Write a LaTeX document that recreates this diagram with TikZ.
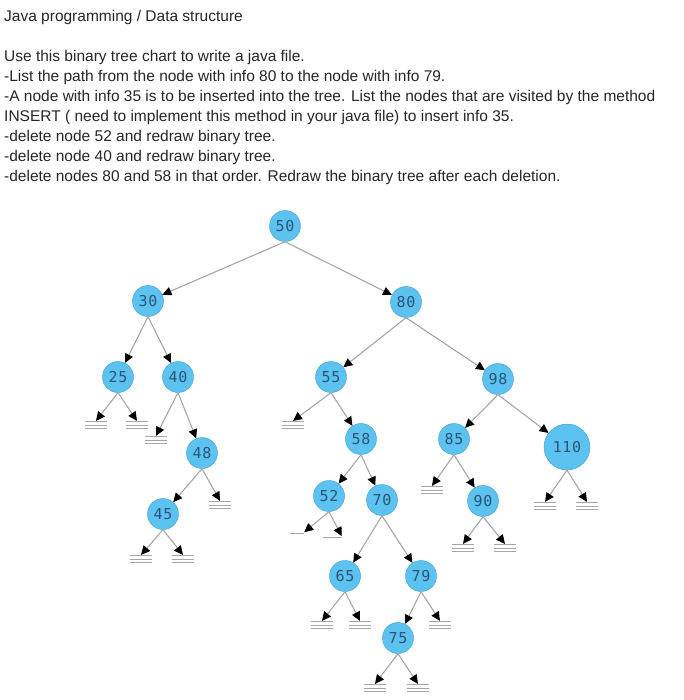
\documentclass[tikz,border=0pt]{standalone}
\usepackage{fontspec}
\setmainfont{Liberation Sans}
\newfontfamily\keyfont[LetterSpace=4]{DejaVu Sans Mono}
\definecolor{keyfill}{HTML}{5CC2F0}
\definecolor{keydraw}{HTML}{3E9CD0}
\definecolor{keytext}{HTML}{2A5478}
\definecolor{edgegray}{HTML}{A6A6A6}
\usetikzlibrary{arrows.meta, positioning}

\begin{document}
\begin{tikzpicture}[on grid,
    key/.style={circle, draw=keydraw, fill=keyfill, minimum size=31pt,
                inner sep=0pt, text=keytext,
                font={\keyfont\fontsize{15pt}{15pt}\selectfont}},
    bigkey/.style={key, minimum size=46pt},
    nil/.style={minimum width=22pt, minimum height=7.8pt, inner sep=0pt,
                path picture={
                  \foreach \d in {0.6,3.9,7.2}
                    \draw[edgegray, line width=0.9pt]
                      ([yshift=-\d pt]path picture bounding box.north west) --
                      ([yshift=-\d pt]path picture bounding box.north east);}},
    nilone/.style={minimum height=1.2pt, inner sep=0pt,
                   path picture={\draw[edgegray, line width=1pt]
                     (path picture bounding box.west) --
                     (path picture bounding box.east);}},
    arr/.style={draw=edgegray, line width=1.1pt,
                -{Triangle[length=9pt, width=8.5pt, black]}},
    txt/.style={anchor=base west, inner sep=0pt, text=black!85,
                font={\fontsize{15.5pt}{20pt}\selectfont}}
  ]
  \useasboundingbox (0,0) rectangle (683pt,-700pt);

  % task text
  \node[txt] (l1) at (4pt,-21.7pt) {Java programming / Data structure};
  \node[below=40pt of l1.base west, txt] (l2) {Use this binary tree chart to write a java file.};
  \node[below=20pt of l2.base west, txt] (l3) {-List the path from the node with info 80 to the node with info 79.};
  \node[below=20pt of l3.base west, txt] (l4) {-A node with info 35 is to be inserted into the tree. List the nodes that are visited by the method};
  \node[below=20pt of l4.base west, txt] (l5) {INSERT ( need to implement this method in your java file) to insert info 35.};
  \node[below=20pt of l5.base west, txt] (l6) {-delete node 52 and redraw binary tree.};
  \node[below=20pt of l6.base west, txt] (l7) {-delete node 40 and redraw binary tree.};
  \node[below=20pt of l7.base west, txt] (l8) {-delete nodes 80 and 58 in that order. Redraw the binary tree after each deletion.};

  % tree
  \node[key] (n50) at (285pt,-226pt) {50};
  \node[key, below left=75pt and 137pt of n50]  (n30)  {30};
  \node[key, below right=76pt and 121pt of n50] (n80)  {80};
  \node[key, below left=76pt and 30pt of n30]   (n25)  {25};
  \node[key, below right=76pt and 30pt of n30]  (n40)  {40};
  \node[key, below left=75pt and 75pt of n80]   (n55)  {55};
  \node[key, below right=77pt and 92pt of n80]  (n98)  {98};
  \node[key, below right=76pt and 24pt of n40]  (n48)  {48};
  \node[key, below left=61pt and 39pt of n48]   (n45)  {45};
  \node[key, below right=62pt and 30pt of n55]  (n58)  {58};
  \node[key, below left=60pt and 44pt of n98]   (n85)  {85};
  \node[bigkey, below right=68pt and 69pt of n98] (n110) {110};
  \node[key, below left=57pt and 32pt of n58]   (n52)  {52};
  \node[key, below right=61pt and 21pt of n58]  (n70)  {70};
  \node[key, below right=62pt and 29pt of n85]  (n90)  {90};
  \node[key, below left=76pt and 37pt of n70]   (n65)  {65};
  \node[key, below right=76pt and 39pt of n70]  (n79)  {79};
  \node[key, below left=62pt and 23pt of n79]   (n75)  {75};

  % empty subtrees
  \node[nil, below left=48pt and 22pt of n25]   (z25l) {};
  \node[nil, below right=48pt and 19pt of n25]  (z25r) {};
  \node[nil, below left=63pt and 22pt of n40]   (z40l) {};
  \node[nil, below right=52pt and 18pt of n48]  (z48r) {};
  \node[nil, below left=45pt and 22pt of n45]   (z45l) {};
  \node[nil, below right=45pt and 20pt of n45]  (z45r) {};
  \node[nil, below left=48pt and 38pt of n55]   (z55l) {};
  \node[nilone, minimum width=14pt, below left=37pt and 32pt of n52] (z52l) {};
  \node[nilone, minimum width=19pt, below right=41pt and 3pt of n52] (z52r) {};
  \node[nil, below left=49pt and 23pt of n65]   (z65l) {};
  \node[nil, below right=49pt and 15pt of n65]  (z65r) {};
  \node[nil, below right=49pt and 19pt of n79]  (z79r) {};
  \node[nil, below left=50pt and 23pt of n75]   (z75l) {};
  \node[nil, below right=50pt and 20pt of n75]  (z75r) {};
  \node[nil, below left=51pt and 22pt of n85]   (z85l) {};
  \node[nil, below left=47pt and 20pt of n90]   (z90l) {};
  \node[nil, below right=47pt and 22pt of n90]  (z90r) {};
  \node[nil, below left=59pt and 22pt of n110]  (z110l) {};
  \node[nil, below right=59pt and 20pt of n110] (z110r) {};

  \draw[arr] (n50.south) -- (n30);
  \draw[arr] (n50.south) -- (n80);
  \draw[arr] (n30.south) -- (n25);
  \draw[arr] (n30.south) -- (n40);
  \draw[arr] (n80.south) -- (n55);
  \draw[arr] (n80.south) -- (n98);
  \draw[arr] (n40.south) -- (n48);
  \draw[arr] (n48.south) -- (n45);
  \draw[arr] (n55.south) -- (n58);
  \draw[arr] (n98.south) -- (n85);
  \draw[arr] (n98.south) -- (n110);
  \draw[arr] (n58.south) -- (n52);
  \draw[arr] (n58.south) -- (n70);
  \draw[arr] (n85.south) -- (n90);
  \draw[arr] (n70.south) -- (n65);
  \draw[arr] (n70.south) -- (n79);
  \draw[arr] (n79.south) -- (n75);
  % arrows to empty subtrees
  \draw[arr] (n25.south)  -- (z25l.north);
  \draw[arr] (n25.south)  -- (z25r.north);
  \draw[arr] (n40.south)  -- (z40l.north);
  \draw[arr] (n48.south)  -- (z48r.north);
  \draw[arr] (n45.south)  -- (z45l.north);
  \draw[arr] (n45.south)  -- (z45r.north);
  \draw[arr] (n55.south)  -- (z55l.north);
  \draw[arr] (n52.south)  -- (z52l.north east);
  \draw[arr] (n52.south)  -- (z52r.north east);
  \draw[arr] (n65.south)  -- (z65l.north);
  \draw[arr] (n65.south)  -- (z65r.north);
  \draw[arr] (n79.south)  -- (z79r.north);
  \draw[arr] (n75.south)  -- (z75l.north);
  \draw[arr] (n75.south)  -- (z75r.north);
  \draw[arr] (n85.south)  -- (z85l.north);
  \draw[arr] (n90.south)  -- (z90l.north);
  \draw[arr] (n90.south)  -- (z90r.north);
  \draw[arr] (n110.south) -- (z110l.north);
  \draw[arr] (n110.south) -- (z110r.north);
\end{tikzpicture}
\end{document}
